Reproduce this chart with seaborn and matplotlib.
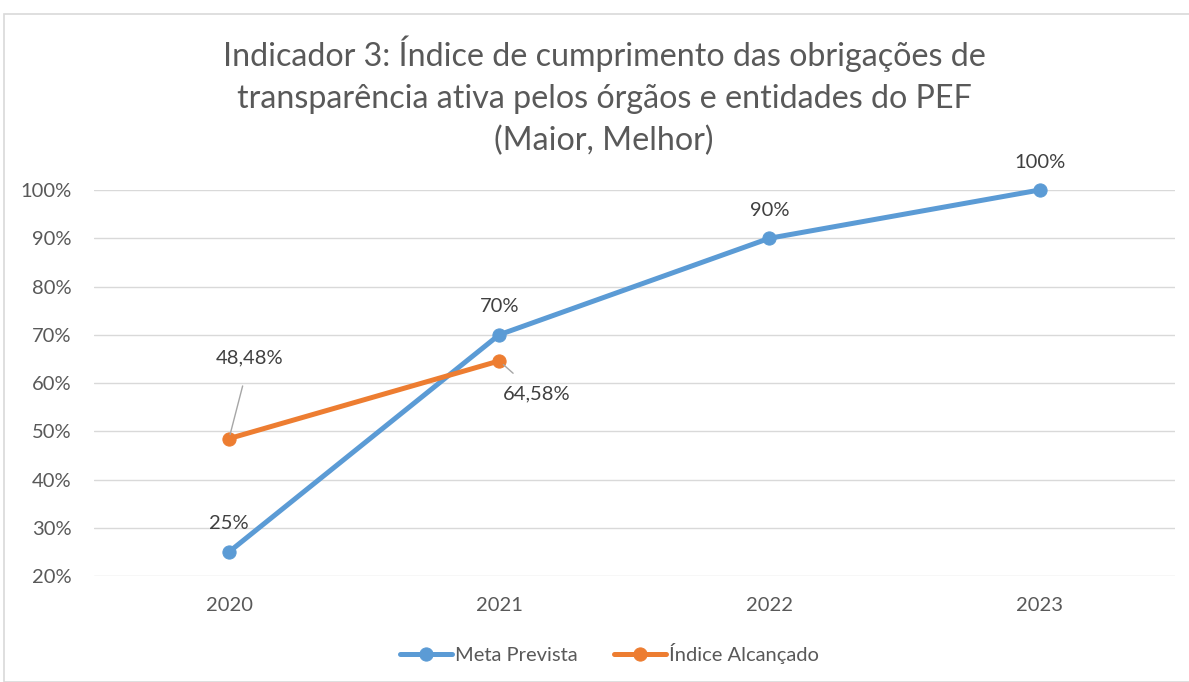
import pandas as pd
import numpy as np
import matplotlib.pyplot as plt
import seaborn as sns
from matplotlib.patches import Rectangle

# data
years = ["2020", "2021", "2022", "2023"]
meta_prevista = [25, 70, 90, 100]
indice_years = ["2020", "2021"]
indice_alcancado = [48.48, 64.58]
meta_labels = ["25%", "70%", "90%", "100%"]
indice_labels = ["48,48%", "64,58%"]
y_ticks = [20, 30, 40, 50, 60, 70, 80, 90, 100]

blue = "#5B9BD5"
orange = "#ED7D31"
gray_txt = "#595959"

sns.set_theme(style="white")
plt.rcParams['font.family'] = ['Lato', 'DejaVu Sans']

df_meta = pd.DataFrame({"ano": years, "valor": meta_prevista})
df_ind = pd.DataFrame({"ano": indice_years, "valor": indice_alcancado})
pos = {y: i for i, y in enumerate(years)}
df_meta["x"] = df_meta["ano"].map(pos)
df_ind["x"] = df_ind["ano"].map(pos)

fig = plt.figure(figsize=(11.89, 6.82), dpi=100)
ax = fig.add_axes([0.079, 0.1554, 0.909, 0.566])

# outer chart border
fig.patches.append(Rectangle((4 / 1189, 0), 1.2, 1 - 14 / 682, transform=fig.transFigure,
                             fill=False, edgecolor="#D9D9D9", linewidth=1.2))

sns.lineplot(data=df_meta, x="x", y="valor", ax=ax, color=blue, linewidth=3.6,
             marker="o", markersize=9.5, markeredgecolor=blue, label="Meta Prevista",
             clip_on=False)
sns.lineplot(data=df_ind, x="x", y="valor", ax=ax, color=orange, linewidth=3.6,
             marker="o", markersize=9.5, markeredgecolor=orange, label="Índice Alcançado",
             clip_on=False)

ax.set_xlim(-0.5, 3.5)
ax.set_ylim(20, 100)
ax.set_yticks(y_ticks)
ax.set_yticklabels([f"{t}%" for t in y_ticks])
ax.set_xticks(range(len(years)))
ax.set_xticklabels(years)
ax.tick_params(axis="both", colors=gray_txt, labelsize=14.5, length=0)
ax.tick_params(axis="y", pad=16)
ax.tick_params(axis="x", pad=15)
ax.grid(axis="y", color="#D9D9D9", linewidth=1)
ax.set_axisbelow(True)
for s in ax.spines.values():
    s.set_visible(False)
ax.set_xlabel("")
ax.set_ylabel("")

# data labels
for i, (v, lab) in enumerate(zip(meta_prevista, meta_labels)):
    ax.annotate(lab, (i, v), xytext=(0, 14), textcoords="offset points",
                ha="center", va="bottom", fontsize=14.5, color="#404040")

ax.annotate(indice_labels[0], (0, indice_alcancado[0]), xytext=(15, 58),
            textcoords="offset points", ha="center", va="center", fontsize=14.5,
            color="#404040",
            arrowprops=dict(arrowstyle="-", color="#A6A6A6", lw=1,
                            shrinkA=12, shrinkB=3))
ax.annotate(indice_labels[1], (1, indice_alcancado[1]), xytext=(27, -24),
            textcoords="offset points", ha="center", va="center", fontsize=14.5,
            color="#404040",
            arrowprops=dict(arrowstyle="-", color="#A6A6A6", lw=1,
                            shrinkA=10, shrinkB=4))

fig.text(0.508, 1 - 96 / 682,
         "Indicador 3: Índice de cumprimento das obrigações de\n"
         "transparência ativa pelos órgãos e entidades do PEF\n(Maior, Melhor)",
         ha="center", va="center", fontsize=23.2, color=gray_txt, linespacing=1.5)

leg = ax.legend(loc="center", bbox_to_anchor=(0.477, -0.2), ncol=2, frameon=False,
                fontsize=14.5, handlelength=2.6, columnspacing=1.8, handletextpad=0.15)
for t in leg.get_texts():
    t.set_color(gray_txt)

fig.savefig("out.png", dpi=100, facecolor="white")
